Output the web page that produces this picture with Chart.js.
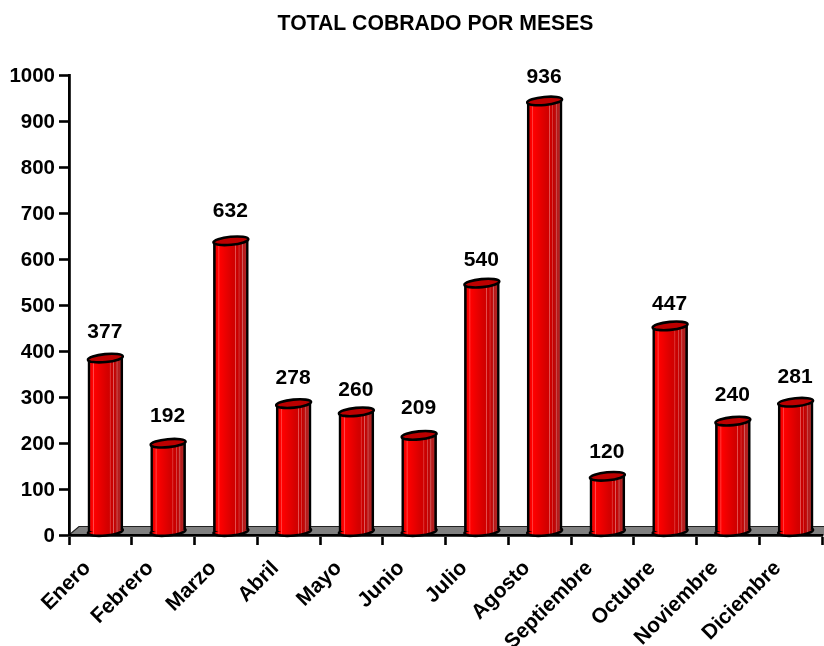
<!DOCTYPE html>
<html>
<head>
<meta charset="utf-8">
<title>Total cobrado por meses</title>
<script src="https://cdn.jsdelivr.net/npm/chart.js@4"></script>
<style>
    html, body { margin: 0; padding: 0; background: #fff; }
    canvas { display: block; }
</style>
</head>
<body>
<canvas id="cobradoChart" width="824" height="646"></canvas>
<script>
const months = ["Enero", "Febrero", "Marzo", "Abril", "Mayo", "Junio", "Julio", "Agosto", "Septiembre", "Octubre", "Noviembre", "Diciembre"];
const cobrado = [377, 192, 632, 278, 260, 209, 540, 936, 120, 447, 240, 281];
const chartTitle = "TOTAL COBRADO POR MESES";
// how far each value label floats over its bar, the original is not regular
const labelLift = [29, 30, 33, 29, 25, 31, 26, 27, 28, 25, 29, 29];

const FONT = "'Liberation Sans', Arial, sans-serif";
const BAR_W = 34;
const SHIFT_X = 5;      // the cylinders sit to the right of the category centre
const SHIFT_Y = -3.5;   // and a little back on the floor
const ELL_B = 4;
const TILT = -5.5 * Math.PI / 180;
const SLOPE = BAR_W / 2 * Math.sin(-TILT);
const LINE = 2.6;

// vertical streaks of the cylinder, left to right
const streaks = [
    [0, "#c00000"], [0.07, "#f00000"], [0.12, "#ff0000"], [0.15, "#ff4a4a"], [0.17, "#ff0000"],
    [0.32, "#ee0000"], [0.55, "#d40000"], [0.62, "#d00000"], [0.64, "#e86060"], [0.66, "#cc0000"],
    [0.72, "#c80000"], [0.74, "#dc6060"], [0.76, "#c40000"], [0.82, "#bc1010"], [0.84, "#d06060"],
    [0.87, "#b81818"], [1, "#a83030"]
];

function barGradient(c, x) {
    const g = c.createLinearGradient(x - BAR_W / 2, 0, x + BAR_W / 2, 0);
    streaks.forEach(s => g.addColorStop(s[0], s[1]));
    return g;
}

function ellipsePath(c, x, y) {
    c.beginPath();
    c.ellipse(x, y, BAR_W / 2 + 0.5, ELL_B, TILT, 0, Math.PI * 2);
}

const cylinderPlugin = {
    id: "cylinders",
    beforeDraw(chart) {
        // grey floor under the bars
        const c = chart.ctx;
        const a = chart.chartArea;
        const y0 = chart.scales.y.getPixelForValue(0);
        c.save();
        c.beginPath();
        c.moveTo(a.left, y0);
        c.lineTo(a.left + 10, y0 - 8.5);
        c.lineTo(chart.width + 2, y0 - 8.5);
        c.lineTo(chart.width + 2, y0);
        c.closePath();
        c.fillStyle = "#808080";
        c.fill();
        c.lineWidth = 1.2;
        c.strokeStyle = "#222";
        c.stroke();
        c.restore();
    },
    beforeDatasetsDraw(chart) {
        const c = chart.ctx;
        const bars = chart.getDatasetMeta(0).data;
        const base = chart.scales.y.getPixelForValue(0) + SHIFT_Y;
        // bottoms first, the bar bodies go over them
        bars.forEach(b => {
            const x = b.x + SHIFT_X;
            c.save();
            ellipsePath(c, x, base);
            c.fillStyle = barGradient(c, x);
            c.fill();
            c.lineWidth = LINE;
            c.strokeStyle = "#000";
            c.stroke();
            c.restore();
        });
        c.save();
        c.translate(SHIFT_X, SHIFT_Y);
        // slanted clip so the body follows the tilted ellipses
        c.beginPath();
        bars.forEach(b => {
            const l = b.x - BAR_W / 2 - 2;
            const r = b.x + BAR_W / 2 + 2;
            c.moveTo(l, b.y + SLOPE);
            c.lineTo(r, b.y - SLOPE);
            c.lineTo(r, b.base - SLOPE);
            c.lineTo(l, b.base + SLOPE);
            c.closePath();
        });
        c.clip();
    },
    afterDatasetsDraw(chart) {
        const c = chart.ctx;
        c.restore();
        chart.getDatasetMeta(0).data.forEach((b, i) => {
            const x = b.x + SHIFT_X;
            const y = b.y + SHIFT_Y;
            c.save();
            ellipsePath(c, x, y);
            c.fillStyle = "#bc0000";
            c.fill();
            c.lineWidth = LINE;
            c.strokeStyle = "#000";
            c.stroke();
            c.fillStyle = "#000";
            c.font = "bold 21px " + FONT;
            c.textAlign = "center";
            c.textBaseline = "middle";
            c.fillText(String(cobrado[i]), x - 0.5, b.y - labelLift[i]);
            c.restore();
        });
        // title, sits off centre in the original
        c.save();
        c.fillStyle = "#000";
        c.font = "bold 21.2px " + FONT;
        c.textAlign = "center";
        c.textBaseline = "middle";
        c.fillText(chartTitle, 435.5, 24);
        c.restore();
    }
};

new Chart(document.getElementById("cobradoChart"), {
    type: "bar",
    data: {
        labels: months,
        datasets: [{
            label: "Total cobrado",
            data: cobrado,
            barThickness: BAR_W + 1,
            clip: false,
            borderColor: "#000",
            borderWidth: { left: LINE, right: LINE, top: 0, bottom: 0 },
            borderSkipped: false,
            backgroundColor(ctx) {
                const chart = ctx.chart;
                if (!chart.chartArea || ctx.dataIndex === undefined) return "#dc0000";
                return barGradient(chart.ctx, chart.scales.x.getPixelForValue(ctx.dataIndex));
            }
        }]
    },
    options: {
        responsive: false,
        animation: false,
        layout: { padding: { top: 75, right: 2, left: 0, bottom: 0 } },
        plugins: {
            legend: { display: false },
            title: { display: false },
            tooltip: { enabled: false }
        },
        scales: {
            x: {
                afterFit(scale) { scale.height = 111; },
                grid: { drawOnChartArea: false, drawTicks: true, tickLength: 10, tickColor: "#000", tickWidth: 2.6 },
                border: { color: "#000", width: 2.8 },
                ticks: {
                    color: "#000",
                    font: { family: FONT, weight: "bold", size: 21 },
                    minRotation: 45,
                    maxRotation: 45,
                    autoSkip: false,
                    labelOffset: -13,
                    padding: 11
                }
            },
            y: {
                min: 0,
                max: 1000,
                afterFit(scale) { scale.width = 69; },
                grid: { drawOnChartArea: false, drawTicks: true, tickLength: 10, tickColor: "#000", tickWidth: 2.6 },
                border: { color: "#000", width: 2.8 },
                ticks: {
                    color: "#000",
                    stepSize: 100,
                    callback: v => String(v),
                    font: { family: FONT, weight: "bold", size: 20.5 },
                    labelOffset: 1,
                    padding: 4
                }
            }
        }
    },
    plugins: [cylinderPlugin]
});
</script>
</body>
</html>
